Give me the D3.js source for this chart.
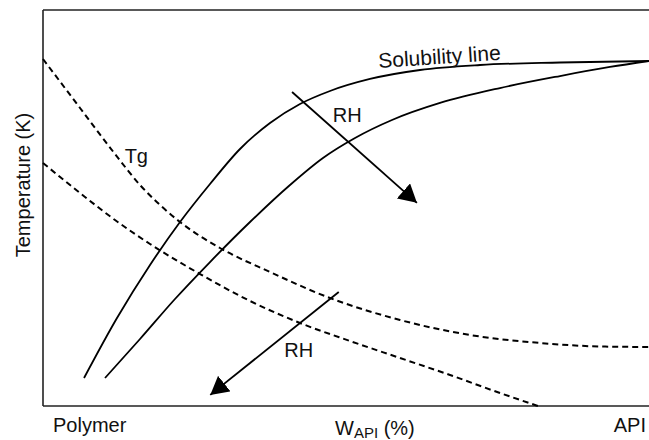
<!DOCTYPE html>
<html>
<head>
<meta charset="utf-8">
<script src="https://cdn.jsdelivr.net/npm/d3@7/dist/d3.min.js"></script>
<style>
  html, body { margin: 0; padding: 0; background: #fff; }
  svg { display: block; font-family: "Liberation Sans", Arial, Helvetica, sans-serif; }
</style>
</head>
<body>
<svg id="chart" width="649" height="440"></svg>
<script>
// Schematic phase diagram: API weight fraction (x, %) vs. temperature (y, relative units 0-100)

// Solubility line, dry state
const solubilityDry = [
  [6.77, 7.07], [12.21, 22.22], [17.66, 35.61], [22.61, 46.46], [27.56, 56.06],
  [32.51, 64.90], [37.46, 71.46], [42.41, 76.26], [47.36, 79.55], [53.96, 82.58],
  [62.21, 84.85], [72.11, 86.11], [85.31, 86.74], [100, 87.12]
];
// Solubility line at raised relative humidity
const solubilityHumid = [
  [10.23, 7.07], [16.01, 16.92], [21.78, 27.02], [27.56, 36.36], [34.16, 46.46],
  [40.76, 55.81], [46.20, 62.63], [51.49, 67.68], [57.59, 72.22], [65.51, 76.52],
  [75.41, 80.30], [85.31, 83.33], [93.56, 85.61], [100, 87.12]
];
// Glass transition temperature, dry state
const tgDry = [
  [0, 87.63], [6.11, 75.25], [11.88, 63.64], [16.01, 55.81], [19.31, 50.76],
  [22.61, 46.46], [29.21, 39.90], [37.46, 33.84], [47.36, 27.27], [58.91, 21.72],
  [70.46, 17.93], [82.01, 15.91], [91.91, 15.03], [100, 14.90]
];
// Glass transition temperature at raised relative humidity
const tgHumid = [
  [0, 61.36], [6.11, 53.79], [11.88, 46.97], [17.66, 40.91], [25.91, 33.33],
  [34.16, 26.52], [42.41, 20.96], [50.66, 16.41], [58.91, 12.12], [67.16, 7.83],
  [75.41, 3.28], [81.68, 0]
];
// Direction of increasing RH: [from, to]
const rhArrows = [
  [[41.1, 79.3], [61.7, 51.3]],
  [[48.8, 28.8], [27.6, 2.8]]
];
// Curve and arrow labels: [text, x, y, rotation, size]
const curveLabels = [
  ["Solubility line", 65.5, 86.4, -3.8, 21],
  ["Tg", 15.4, 61.4, 0, 20],
  ["RH", 50.2, 71.7, 0, 20],
  ["RH", 42.2, 12.4, 0, 20]
];
const axisEndLabels = ["Polymer", "API"];
const yTitle = "Temperature (K)";

const svg = d3.select("#chart");
const margin = { left: 43, right: 0, top: 10, bottom: 34 };
const W = 649, H = 440;

const x = d3.scaleLinear().domain([0, 100]).range([margin.left, W - margin.right]);
const y = d3.scaleLinear().domain([0, 100]).range([H - margin.bottom, margin.top]);

const line = d3.line()
  .x(d => x(d[0]))
  .y(d => y(d[1]))
  .curve(d3.curveMonotoneX);

// Frame: left, top and bottom edges
const frame = svg.append("g").attr("stroke", "#222").attr("stroke-width", 1.6).attr("fill", "none");
frame.append("line").attr("x1", x(0)).attr("x2", x(0)).attr("y1", y(0)).attr("y2", y(100));
frame.append("line").attr("x1", x(0)).attr("x2", x(100)).attr("y1", y(100)).attr("y2", y(100));
frame.append("line").attr("x1", x(0)).attr("x2", x(100)).attr("y1", y(0)).attr("y2", y(0));

// Solubility lines
svg.selectAll("path.sol")
  .data([solubilityDry, solubilityHumid])
  .join("path")
  .attr("class", "sol")
  .attr("d", line)
  .attr("fill", "none")
  .attr("stroke", "#000")
  .attr("stroke-width", 1.8);

// Tg lines
svg.selectAll("path.tg")
  .data([tgDry, tgHumid])
  .join("path")
  .attr("class", "tg")
  .attr("d", line)
  .attr("fill", "none")
  .attr("stroke", "#000")
  .attr("stroke-width", 2)
  .attr("stroke-dasharray", "6,4");

// Arrow heads
const defs = svg.append("defs");
defs.append("marker")
  .attr("id", "head")
  .attr("viewBox", "0 0 18 20")
  .attr("refX", 18)
  .attr("refY", 10)
  .attr("markerUnits", "userSpaceOnUse")
  .attr("markerWidth", 18)
  .attr("markerHeight", 20)
  .attr("orient", "auto")
  .append("path")
  .attr("d", "M0,0 L18,10 L0,20 Z")
  .attr("fill", "#000");

svg.selectAll("line.rh")
  .data(rhArrows)
  .join("line")
  .attr("class", "rh")
  .attr("x1", d => x(d[0][0]))
  .attr("y1", d => y(d[0][1]))
  .attr("x2", d => x(d[1][0]))
  .attr("y2", d => y(d[1][1]))
  .attr("stroke", "#000")
  .attr("stroke-width", 1.8)
  .attr("marker-end", "url(#head)");

// Curve labels
svg.selectAll("text.lbl")
  .data(curveLabels)
  .join("text")
  .attr("class", "lbl")
  .attr("text-anchor", "middle")
  .attr("font-size", d => d[4])
  .attr("fill", "#111")
  .attr("transform", d => `translate(${x(d[1])},${y(d[2])}) rotate(${d[3]})`)
  .text(d => d[0]);

// X axis end labels
svg.append("text")
  .attr("x", 53).attr("y", 432)
  .attr("font-size", 20).attr("fill", "#111")
  .text(axisEndLabels[0]);
svg.append("text")
  .attr("x", 646).attr("y", 432)
  .attr("text-anchor", "end")
  .attr("font-size", 20).attr("fill", "#111")
  .text(axisEndLabels[1]);

// X axis title with subscript
const xt = svg.append("text")
  .attr("x", 335).attr("y", 435)
  .attr("font-size", 20).attr("fill", "#111");
xt.append("tspan").text("W");
xt.append("tspan").attr("font-size", 15).attr("dy", 3).text("API");
xt.append("tspan").attr("dy", -3).text(" (%)");

// Y axis title
svg.append("text")
  .attr("transform", `translate(30,${(y(0) + y(100)) / 2 - 23}) rotate(-90)`)
  .attr("text-anchor", "middle")
  .attr("font-size", 20).attr("fill", "#111")
  .text(yTitle);
</script>
</body>
</html>
